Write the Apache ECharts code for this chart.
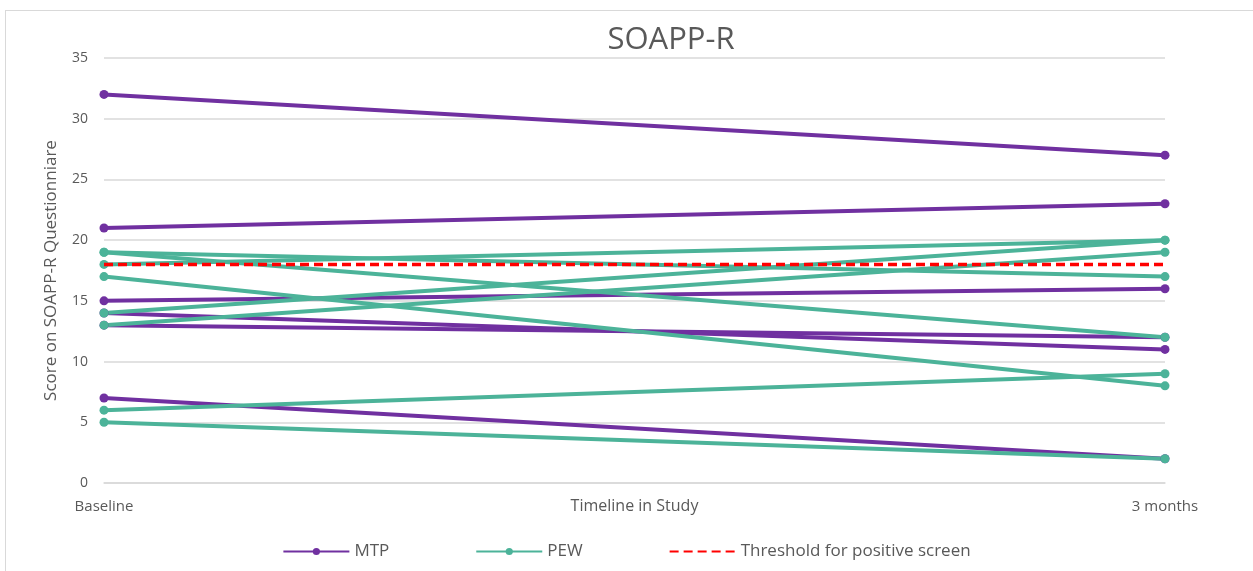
<!DOCTYPE html>
<html>
<head>
<meta charset="utf-8">
<script src="https://cdn.jsdelivr.net/npm/echarts@6/dist/echarts.min.js"></script>
<style>
  html, body { margin: 0; padding: 0; background: #fff; }
  #frame { position: absolute; left: 5px; top: 10px; width: 1260px; height: 570px; border: 1px solid #d9d9d9; box-sizing: border-box; }
  #chart { position: absolute; left: 0; top: 0; width: 1253px; height: 571px; }
</style>
</head>
<body>
<div id="frame"></div>
<div id="chart"></div>
<script>
const timepoints = ['Baseline', '3 months']
const mtpBaseline = [32, 21, 15, 14, 13, 7]
const mtp3Months = [27, 23, 16, 11, 12, 2]
const pewBaseline = [19, 19, 18, 17, 14, 13, 6, 5]
const pew3Months = [17, 12, 20, 8, 20, 19, 9, 2]
const threshold = [18, 18]

const purple = '#7030a0'
const green = '#4cb399'
const font = '"Open Sans", "Noto Sans", sans-serif'

function groupSeries(name, color, starts, ends) {
  return starts.map((v, i) => ({
    name,
    type: 'line',
    data: [v, ends[i]],
    symbol: 'circle',
    symbolSize: 9,
    lineStyle: { width: 4, color },
    itemStyle: { color },
    emphasis: { disabled: true },
  }))
}

const series = [
  ...groupSeries('MTP', purple, mtpBaseline, mtp3Months),
  ...groupSeries('PEW', green, pewBaseline, pew3Months),
  {
    name: 'Threshold for positive screen',
    type: 'line',
    data: threshold,
    symbol: 'none',
    lineStyle: { width: 3.5, color: '#ff0000', type: [9, 5] },
    itemStyle: { color: '#ff0000' },
    z: 5,
  },
]

const chart = echarts.init(document.getElementById('chart'))
chart.setOption({
  animation: false,
  title: {
    text: 'SOAPP-R',
    left: 666,
    textAlign: 'center',
    top: 20,
    textStyle: { fontFamily: font, fontSize: 31, fontWeight: 'normal', color: '#595959' },
  },
  legend: {
    bottom: 6,
    left: 'center',
    itemWidth: 66,
    itemHeight: 9,
    itemGap: 86,
    textStyle: { fontFamily: font, fontSize: 17, color: '#595959' },
    data: [
      'MTP',
      'PEW',
      { name: 'Threshold for positive screen', itemStyle: { opacity: 0 } },
    ],
  },
  grid: { left: 104, right: 88, top: 58, bottom: 88 },
  xAxis: {
    type: 'category',
    data: timepoints,
    boundaryGap: false,
    name: 'Timeline in Study',
    nameLocation: 'middle',
    nameGap: 15,
    nameMoveOverlap: false,
    nameTextStyle: { fontFamily: font, fontSize: 16, color: '#595959' },
    axisLine: { lineStyle: { color: '#d9d9d9', width: 1.5 } },
    axisTick: { show: false },
    axisLabel: { fontFamily: font, fontSize: 15, color: '#595959', margin: 16 },
  },
  yAxis: {
    type: 'value',
    min: 0,
    max: 35,
    interval: 5,
    name: 'Score on SOAPP-R Questionniare',
    nameLocation: 'middle',
    nameGap: 44,
    nameTextStyle: { fontFamily: font, fontSize: 17, color: '#595959' },
    axisLine: { show: false },
    axisTick: { show: false },
    axisLabel: { fontFamily: font, fontSize: 14, color: '#595959', margin: 16 },
    splitLine: { lineStyle: { color: '#d9d9d9', width: 1.5 } },
  },
  series,
})
</script>
</body>
</html>
